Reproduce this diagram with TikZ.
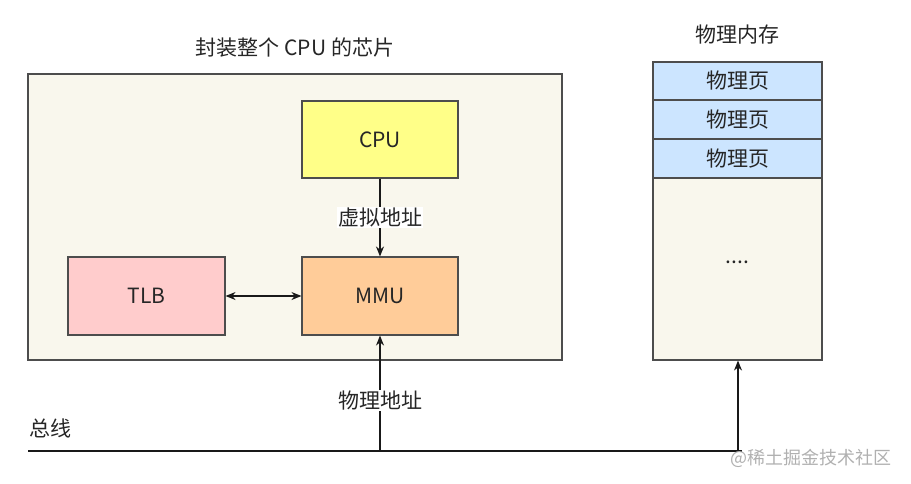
\documentclass[tikz,border=0pt]{standalone}
\usepackage{fontspec}
\setmainfont{Noto Sans CJK SC}
\usetikzlibrary{arrows.meta}
\definecolor{chipfill}{HTML}{F9F7ED}
\definecolor{boxline}{HTML}{4D4D4D}
\definecolor{cpufill}{HTML}{FFFF88}
\definecolor{mmufill}{HTML}{FFCC99}
\definecolor{tlbfill}{HTML}{FFCCCC}
\definecolor{pagefill}{HTML}{CCE5FF}
\definecolor{wmgray}{HTML}{B0B0B0}
\begin{document}
\begin{tikzpicture}[x=1pt,y=-1pt,
  box/.style={draw=boxline,line width=1.1pt,inner sep=0pt},
  lbl/.style={font=\fontsize{21}{24}\selectfont,text=black!85},
  conn/.style={line width=1.2pt,black!90},
  tip/.style={-{Stealth[length=10pt,width=8pt]}}]
\useasboundingbox (0,0) rectangle (911,483);
% chip
\node[box,fill=chipfill,minimum width=534pt,minimum height=286pt] (chip) at (295,217) {};
\node[lbl] (chiptitle) at (295,48) {封装整个 CPU 的芯片};
\node[box,fill=cpufill,minimum width=156pt,minimum height=77pt,lbl] (cpu) at (380,139.5) {CPU};
\node[box,fill=mmufill,minimum width=156pt,minimum height=78pt,lbl] (mmu) at (380,296) {MMU};
\node[box,fill=tlbfill,minimum width=157pt,minimum height=78pt,lbl] (tlb) at (146.5,296) {TLB};
\draw[conn,tip] (cpu) -- (mmu) node[midway,fill=white,inner sep=1pt,lbl] (va) {虚拟地址};
\draw[conn,{Stealth[length=10pt,width=8pt]}-{Stealth[length=10pt,width=8pt]}] (tlb) -- (mmu);
% memory
\node[lbl] (memtitle) at (737.5,35) {物理内存};
\node[box,fill=chipfill,minimum width=169pt,minimum height=182pt] (rest) at (737.5,269) {};
\node[lbl] (dots) at (737.5,262) {....};
\node[box,fill=pagefill,minimum width=169pt,minimum height=39pt,lbl] (p3) at (737.5,158.5) {物理页};
\node[box,fill=pagefill,minimum width=169pt,minimum height=39pt,lbl] (p2) at (737.5,119.5) {物理页};
\node[box,fill=pagefill,minimum width=169pt,minimum height=38pt,lbl] (p1) at (737.5,81) {物理页};
% bus
\coordinate (busL) at (28,451);
\coordinate (busR) at (742,451);
\coordinate (busA) at (380,451);
\coordinate (busB) at (738,451);
\draw[conn] (busL) -- (busR);
\node[lbl,anchor=west] (buslbl) at (26,428) {总线};
\draw[conn,tip] (busA) -- (mmu.south) node[pos=0.44,fill=white,inner sep=1pt,lbl] (pa) {物理地址};
\draw[conn,tip] (busB) -- (busB |- rest.south);
\node[text=wmgray,font=\fontsize{18}{20}\selectfont,anchor=east] (wm) at (895,458) {@稀土掘金技术社区};
\end{tikzpicture}
\end{document}
